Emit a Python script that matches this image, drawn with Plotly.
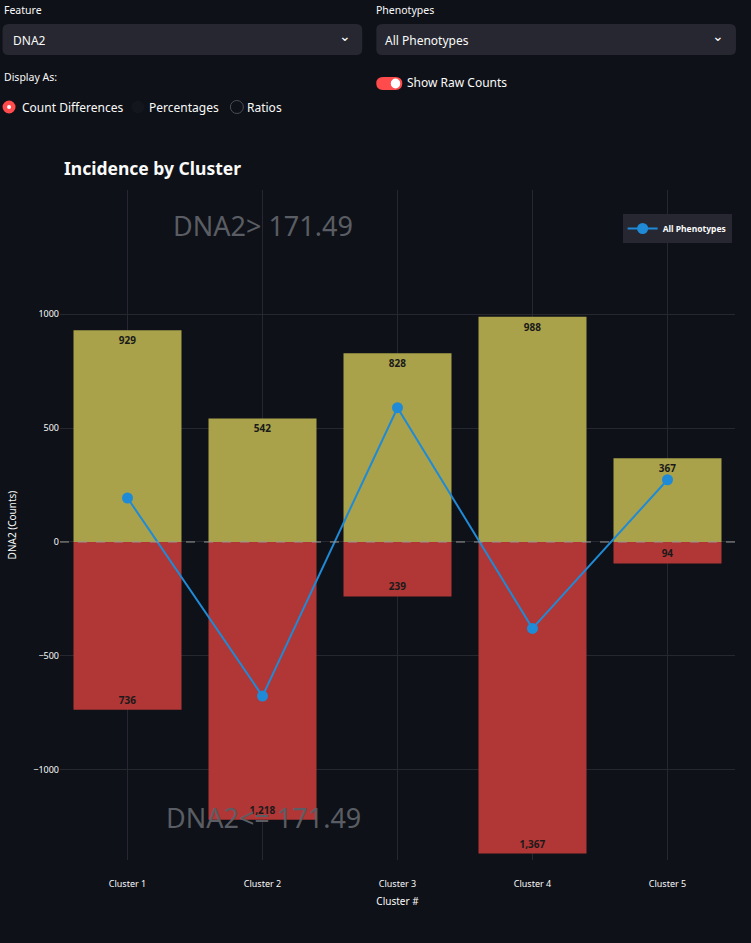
import plotly.graph_objects as go

clusters = ["Cluster 1", "Cluster 2", "Cluster 3", "Cluster 4", "Cluster 5"]
above = [929, 542, 828, 988, 367]
below = [736, 1218, 239, 1367, 94]
diff = [a - b for a, b in zip(above, below)]

W, H = 751, 943
L, R, T, B = 59.5, 735, 190, 860
FONT = "Noto Sans"

def px(x): return (x - L) / (R - L)
def py(y): return (B - y) / (B - T)

def rrect(x0, y0, x1, y1, r):
    def P(x, y): return f"{px(x)},{py(y)}"
    return (f"M {P(x0+r,y0)} L {P(x1-r,y0)} Q {P(x1,y0)} {P(x1,y0+r)} "
            f"L {P(x1,y1-r)} Q {P(x1,y1)} {P(x1-r,y1)} L {P(x0+r,y1)} "
            f"Q {P(x0,y1)} {P(x0,y1-r)} L {P(x0,y0+r)} Q {P(x0,y0)} {P(x0+r,y0)} Z")

fig = go.Figure()
fig.add_bar(x=clusters, y=above, marker=dict(color="#a9a24a", line=dict(width=0)), width=0.8,
            text=[f"{v:,}" for v in above], textposition="inside", insidetextanchor="end",
            textfont=dict(color="#1a1a1a", size=10, family=FONT, weight="bold"),
            showlegend=False, hoverinfo="skip")
fig.add_bar(x=clusters, y=[-v for v in below], marker=dict(color="#b13636", line=dict(width=0)), width=0.8,
            text=[f"{v:,}" for v in below], textposition="inside", insidetextanchor="end",
            textfont=dict(color="#1a1a1a", size=10, family=FONT, weight="bold"),
            showlegend=False, hoverinfo="skip")
fig.add_scatter(x=clusters, y=diff, mode="lines+markers", name="<b>All Phenotypes</b>",
                line=dict(color="#1f8ad6", width=2), marker=dict(size=11, color="#1f8ad6"))

shapes = [dict(type="line", xref="paper", yref="y", x0=0, x1=1, y0=0, y1=0,
               line=dict(color="#9a9a9a", width=1, dash="dash"))]
for x0, x1 in [(2, 362), (376, 736)]:
    shapes.append(dict(type="path", xref="paper", yref="paper", path=rrect(x0, 24, x1, 55, 6),
                       fillcolor="#262730", line=dict(width=0)))
shapes.append(dict(type="path", xref="paper", yref="paper", path=rrect(376, 77, 402, 90, 6.5),
                   fillcolor="#ff4b4b", line=dict(width=0)))
shapes.append(dict(type="circle", xref="paper", yref="paper", x0=px(390.5), x1=px(400), y0=py(88.5), y1=py(78.5),
                   fillcolor="white", line=dict(width=0)))
shapes.append(dict(type="circle", xref="paper", yref="paper", x0=px(2), x1=px(15), y0=py(113.5), y1=py(100.5),
                   fillcolor="#ff4b4b", line=dict(width=0)))
shapes.append(dict(type="circle", xref="paper", yref="paper", x0=px(6.5), x1=px(10.5), y0=py(109), y1=py(105),
                   fillcolor="white", line=dict(width=0)))
shapes.append(dict(type="circle", xref="paper", yref="paper", x0=px(131), x1=px(144), y0=py(113.5), y1=py(100.5),
                   fillcolor="#14161d", line=dict(width=0)))
shapes.append(dict(type="circle", xref="paper", yref="paper", x0=px(230), x1=px(243), y0=py(113.5), y1=py(100.5),
                   fillcolor="#0e1117", line=dict(color="#4a4d55", width=1)))

def ann(text, x, y, size=12, color="#fafafa", xanchor="left", bold=False):
    return dict(text=f"<b>{text}</b>" if bold else text, x=px(x), y=py(y), xref="paper", yref="paper",
                xanchor=xanchor, yanchor="middle", showarrow=False,
                font=dict(size=size, color=color, family=FONT))

anns = [
    ann("Feature", 1, 10, 10.5), ann("Phenotypes", 374, 10, 10.5),
    ann("DNA2", 10, 40, 12), ann("All Phenotypes", 383, 40, 12),
    ann("⌄", 345, 36, 14, xanchor="center"), ann("⌄", 718, 36, 14, xanchor="center"),
    ann("Display As:", 1, 77, 10.5),
    ann("Count Differences", 19, 107, 12), ann("Percentages", 147, 107, 12), ann("Ratios", 245, 107, 12),
    ann("Show Raw Counts", 405, 83, 12),
    ann("Incidence by Cluster", 62, 168, 17.5, bold=True),
    ann("DNA2> 171.49", 263, 225, 27, color="#5a5d63", xanchor="center"),
    ann("DNA2<= 171.49", 263, 817, 27, color="#5a5d63", xanchor="center"),
]

fig.update_layout(
    width=W, height=H, barmode="relative",
    margin=dict(l=L, r=W - R, t=T, b=H - B),
    paper_bgcolor="#0e1117", plot_bgcolor="#0e1117",
    font=dict(family=FONT, color="#fafafa", size=10),
    shapes=shapes, annotations=anns,
    legend=dict(x=0.995, xanchor="right", y=py(214), yanchor="top", bgcolor="#262730",
                font=dict(size=8.5, color="#fafafa"), itemwidth=30),
    xaxis=dict(title=dict(text="Cluster #", font=dict(size=10), standoff=8), showgrid=True, gridcolor="#262730",
               tickfont=dict(size=9), range=[-0.5, 4.5], zeroline=False, ticklabelstandoff=17),
    yaxis=dict(title=dict(text="DNA2 (Counts)", font=dict(size=10), standoff=14), gridcolor="#262730",
               range=[-1395, 1544], tickvals=[-1000, -500, 0, 500, 1000], tickfont=dict(size=9),
               zeroline=False),
)
fig.write_html("out.html", config={"displayModeBar": False},
               post_script="document.body.style.margin='0';document.body.style.background='#0e1117';")
